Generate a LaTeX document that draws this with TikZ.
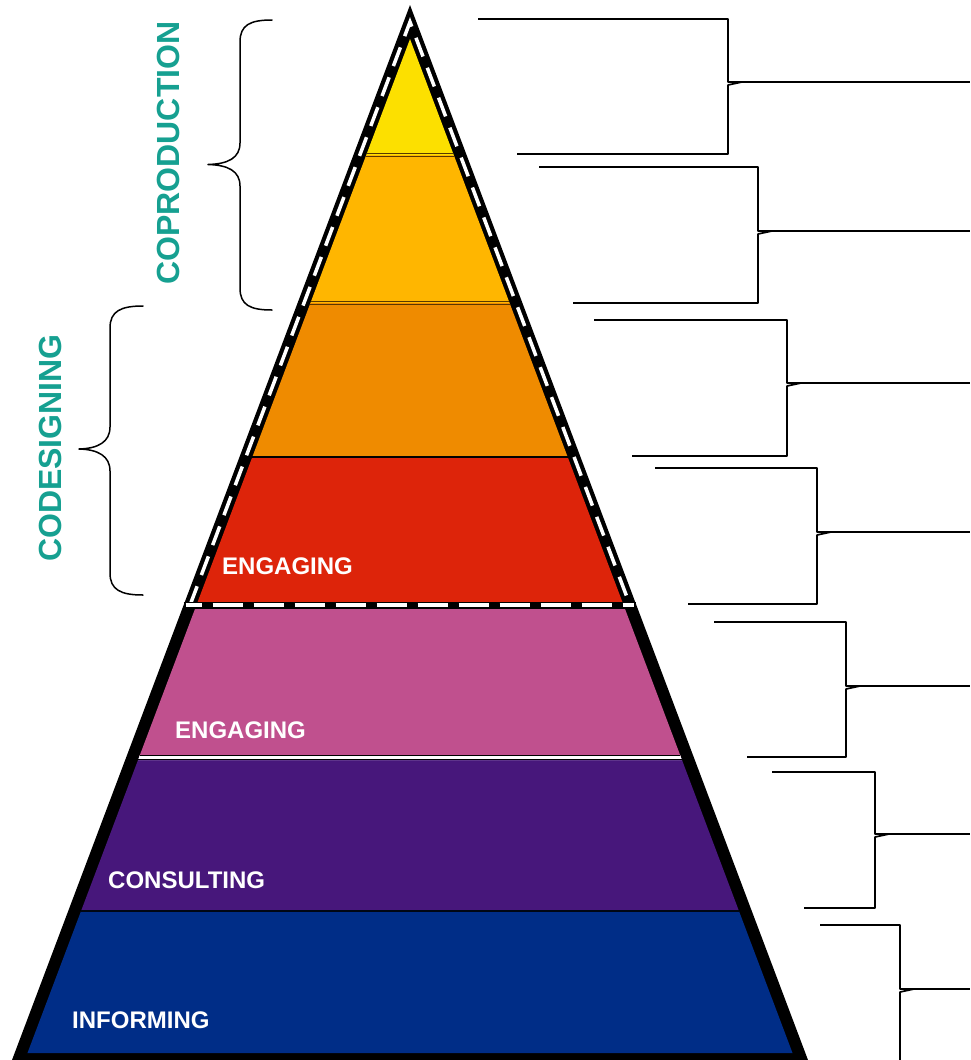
\documentclass[tikz,border=0pt]{standalone}
\usepackage{fontspec}
\setmainfont{Liberation Sans}
\definecolor{cyel}{RGB}{252,224,0}
\definecolor{cgold}{RGB}{255,182,0}
\definecolor{corange}{RGB}{239,139,0}
\definecolor{cred}{RGB}{221,36,10}
\definecolor{cpink}{RGB}{192,80,142}
\definecolor{cpurple}{RGB}{71,23,123}
\definecolor{cblue}{RGB}{0,45,135}
\definecolor{cteal}{RGB}{22,160,145}
\definecolor{cbrown}{RGB}{90,55,0}
\tikzset{
  bandlabel/.style={anchor=west,inner sep=0pt,text=white,font=\fontsize{24}{25}\selectfont\bfseries},
  sidelabel/.style={rotate=90,inner sep=0pt,text=cteal,font=\fontsize{32}{33}\selectfont\bfseries},
  brace/.style={draw=black,line width=1.5pt,line cap=round,line join=round},
  bracket/.style={draw=black,line width=1.7pt,line join=round},
}
\newcommand{\kk}{0.37725}
% band between y1 and y2 (inner triangle apex at y=39)
\newcommand{\band}[3]{\fill[#1] ({410-\kk*(#2-39)},#2) -- ({410+\kk*(#2-39)},#2) -- ({410+\kk*(#3-39)},#3) -- ({410-\kk*(#3-39)},#3) -- cycle;}
% right bracket: xs, ytop, xv, ytip, ybot, xe
\newcommand{\rbracket}[6]{%
  \draw[bracket] (#1,#2) -- (#3,#2) -- (#3,#4) -- (970,#4);
  \draw[bracket] (#6,#5) -- (#3,#5) -- (#3,{#4+3}) -- ({#3+14},#4);}
\begin{document}
\begin{tikzpicture}[x=1pt,y=-1pt]
\useasboundingbox (0,0) rectangle (970,1060);
\clip (0,0) rectangle (970,1060);
% outer black pyramid
\fill[black] (410,5) -- ({410+\kk*1070},1075) -- ({410-\kk*1070},1075) -- cycle;
% bands
\fill[cyel] (410,39) -- ({410+\kk*116},155) -- ({410-\kk*116},155) -- cycle;
\band{cgold}{155}{303}
\band{corange}{303}{457}
\band{cred}{457}{605}
\band{cpink}{605}{757}
\band{cpurple}{757}{911}
\band{cblue}{911}{1053}
% boundary lines
\foreach \yy in {153.5,156.5,301.5,304.5}{
  \draw[cbrown,line width=1pt] ({410-\kk*(\yy-39)},\yy) -- ({410+\kk*(\yy-39)},\yy);}
\draw[black,line width=2.5pt] ({410-\kk*(457-39)},457) -- ({410+\kk*(457-39)},457);
\fill[white] ({410-\kk*(755-39)},755) -- ({410+\kk*(755-39)},755) -- ({410+\kk*(760-39)},760) -- ({410-\kk*(760-39)},760) -- cycle;
\draw[black,line width=1.2pt] ({410-\kk*(755.3-39)},755.3) -- ({410+\kk*(755.3-39)},755.3);
\draw[black,line width=1.5pt] ({410-\kk*(759.5-39)},759.5) -- ({410+\kk*(759.5-39)},759.5);
\draw[black!85!cblue,line width=2.2pt] ({410-\kk*(911-39)},911) -- ({410+\kk*(911-39)},911);
% dashed outline of the upper part
\coordinate (dl) at ({410-\kk*(605-22)},605);
\coordinate (dt) at (410,22);
\coordinate (dr) at ({410+\kk*(605-22)},605);
\draw[white,line width=3.5pt,dash pattern=on 20pt off 12pt] (dl) -- (dt) -- (dr);
\coordinate (hl) at ({410-\kk*600},605);
\coordinate (hr) at ({410+\kk*600},605);
\draw[black,line width=7pt] (hl) -- (hr);
\draw[white,line width=4pt,dash pattern=on 30pt off 11pt,dash phase=14pt] ([xshift=2pt]hl) -- ([xshift=-2pt]hr);
% band labels
\node[bandlabel] (l1) at (222,566) {ENGAGING};
\node[bandlabel] (l2) at (175,730) {ENGAGING};
\node[bandlabel] (l3) at (108,880) {CONSULTING};
\node[bandlabel] (l4) at (72,1020) {INFORMING};
% side labels
\node[sidelabel] (cop) at (168,153) {COPRODUCTION};
\node[sidelabel] (cod) at (50,448) {CODESIGNING};
% left braces
\draw[brace] (272,20) .. controls (250,20) and (240,25) .. (240,42) -- (240,143) .. controls (240,158) and (228,164) .. (208,164.5) .. controls (228,165) and (240,171) .. (240,186) -- (240,288) .. controls (240,305) and (250,310) .. (272,310);
\draw[brace] (143,306) .. controls (121,306) and (110,311) .. (110,328) -- (110,427) .. controls (110,442) and (98,448.5) .. (79,449) .. controls (98,449.5) and (110,456) .. (110,471) -- (110,573) .. controls (110,590) and (121,595) .. (143,595);
% right brackets
\rbracket{478}{19}{728}{82}{154}{517}
\rbracket{539}{167}{758}{231}{303}{573}
\rbracket{594}{320}{787}{383}{456}{632}
\rbracket{655}{468}{817}{532}{604}{688}
\rbracket{714}{622}{846}{686}{757}{747}
\rbracket{772}{772}{875}{834}{908}{804}
\rbracket{820}{925}{900}{989}{1075}{900}
\end{tikzpicture}
\end{document}
